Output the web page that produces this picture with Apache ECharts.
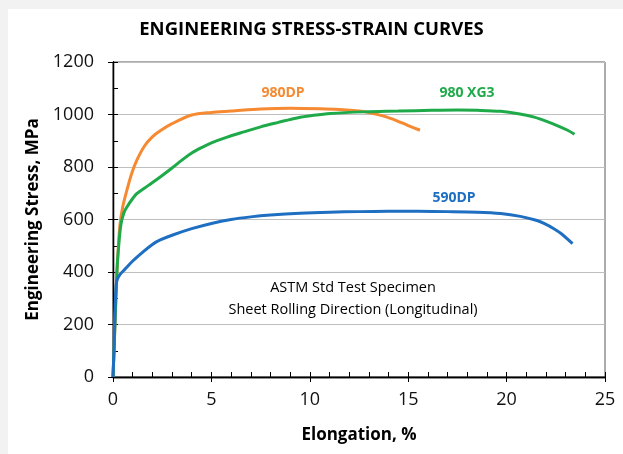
<!DOCTYPE html>
<html><head><meta charset="utf-8">
<script src="https://cdn.jsdelivr.net/npm/echarts@6/dist/echarts.min.js"></script>
<style>html,body{margin:0;padding:0;background:#fff}#c{width:623px;height:454px}</style>
</head><body><div id="c"></div>
<script>
const xTicks = [0, 5, 10, 15, 20, 25];
const yTicks = [0, 200, 400, 600, 800, 1000, 1200];

const dp590X = [0,0.05,0.1,0.15,0.2,0.35,0.6,1.0,1.5,2.0,2.4,3.0,4.0,5.0,6.0,7.0,8.0,9.5,11,12.5,14,15.5,17,18.5,19.7,20.7,21.5,21.9,22.4,22.8,23.1,23.35];
const dp590Y = [0,100,250,340,368,390,410,442,475,505,522,540,565,585,600,610,617,624,628,630,631,631,630,628,623,612,597,585,565,545,525,508];

const dp980X = [0,0.1,0.2,0.27,0.36,0.5,0.7,0.95,1.2,1.6,2.0,2.4,3.0,4.0,5.0,6.0,7.5,9.0,10.5,11.5,12.5,13.1,13.8,14.4,15.0,15.6];
const dp980Y = [0,200,400,495,585,650,710,775,824,880,915,938,965,998,1008,1013,1021,1024,1022,1019,1013,1006,993,977,958,940];

const xg3X = [0,0.1,0.2,0.27,0.4,0.55,0.7,1.0,1.2,1.8,2.4,3.0,3.5,4.0,4.5,5.0,5.8,6.7,7.5,8.4,9.35,10.2,11.05,12.75,14.5,16.2,17.5,18.5,19.7,20.6,21.4,22.0,22.6,23.1,23.45];
const xg3Y = [0,200,400,482,580,625,647,680,698,730,762,796,826,853,874,892,914,935,953,970,987,997,1004,1010,1013,1016,1017,1016,1012,1003,990,975,957,940,925];

const names = ['980DP', '980 XG3', '590DP'];
const colors = ['#F58A32', '#1FAA4A', '#1E6EC1'];

const pair = (xs, ys) => xs.map((x, i) => [x, ys[i]]);
const FONT = 'Open Sans';
const chart = echarts.init(document.getElementById('c'));

const baseX = {
  type: 'value', min: xTicks[0], max: xTicks[xTicks.length - 1], interval: 5,
  axisLine: { show: true, lineStyle: { color: '#000', width: 1.3 } },
  splitLine: { show: false }
};
const baseY = {
  type: 'value', min: yTicks[0], max: yTicks[yTicks.length - 1], interval: 200,
  axisLine: { show: true, lineStyle: { color: '#000', width: 1.3 } }
};

chart.setOption({
  animation: false,
  backgroundColor: '#fff',
  textStyle: { fontFamily: FONT },
  title: {
    text: 'ENGINEERING STRESS-STRAIN CURVES', left: 'center', top: 15,
    textStyle: { fontFamily: FONT, fontWeight: 'bold', fontSize: 18.5, color: '#000' }
  },
  grid: { left: 113, right: 18, top: 62, bottom: 77, show: true, borderColor: '#595959', borderWidth: 1, backgroundColor: 'transparent' },
  xAxis: [
    Object.assign({}, baseX, {
      name: 'Elongation, %', nameLocation: 'middle', nameGap: 50,
      nameTextStyle: { fontFamily: FONT, fontWeight: 'bold', fontSize: 17, color: '#000' },
      axisTick: { show: true, inside: true, length: 5, lineStyle: { color: '#000' } },
      minorTick: { show: true, splitNumber: 5, length: 5, lineStyle: { color: '#000' } },
      axisLabel: { fontFamily: FONT, fontSize: 18, color: '#111', margin: 14 }
    }),
    Object.assign({}, baseX, {
      position: 'bottom', offset: 0,
      axisTick: { show: true, inside: false, length: 5, lineStyle: { color: '#000' } },
      axisLabel: { show: false }
    })
  ],
  yAxis: [
    Object.assign({}, baseY, {
      name: 'Engineering Stress, MPa', nameLocation: 'middle', nameGap: 55,
      nameTextStyle: { fontFamily: FONT, fontWeight: 'bold', fontSize: 17, color: '#000' },
      axisTick: { show: true, inside: true, length: 5, lineStyle: { color: '#000' } },
      minorTick: { show: true, splitNumber: 2, length: 5, lineStyle: { color: '#000' } },
      axisLabel: { fontFamily: FONT, fontSize: 18, color: '#111', margin: 19, formatter: v => String(v) },
      splitLine: { show: true, lineStyle: { color: '#BFBFBF', width: 1 } }
    }),
    Object.assign({}, baseY, {
      position: 'left', offset: 0,
      axisTick: { show: true, inside: false, length: 5, lineStyle: { color: '#000' } },
      axisLabel: { show: false }, splitLine: { show: false }
    })
  ],
  graphic: [
    { type: 'rect', shape: { x: 0, y: 0, width: 623, height: 9 }, style: { fill: '#F2F2F2' }, silent: true },
    { type: 'rect', shape: { x: 0, y: 0, width: 8, height: 454 }, style: { fill: '#F2F2F2' }, silent: true },
    { type: 'text', x: 353, y: 288, style: { text: 'ASTM Std Test Specimen', fontFamily: FONT, fontSize: 14.5, fill: '#000', align: 'center', verticalAlign: 'middle' } },
    { type: 'text', x: 353, y: 310, style: { text: 'Sheet Rolling Direction (Longitudinal)', fontFamily: FONT, fontSize: 14.5, fill: '#000', align: 'center', verticalAlign: 'middle' } },
    { type: 'text', x: 283, y: 93, style: { text: names[0], fontFamily: FONT, fontSize: 14, fontWeight: 'bold', fill: colors[0], align: 'center', verticalAlign: 'middle' } },
    { type: 'text', x: 467, y: 93, style: { text: names[1], fontFamily: FONT, fontSize: 14, fontWeight: 'bold', fill: colors[1], align: 'center', verticalAlign: 'middle' } },
    { type: 'text', x: 454, y: 198, style: { text: names[2], fontFamily: FONT, fontSize: 14, fontWeight: 'bold', fill: colors[2], align: 'center', verticalAlign: 'middle' } }
  ],
  series: [
    { name: names[0], type: 'line', data: pair(dp980X, dp980Y), showSymbol: false, smooth: 0.3, lineStyle: { color: colors[0], width: 3 }, z: 3 },
    { name: names[1], type: 'line', data: pair(xg3X, xg3Y), showSymbol: false, smooth: 0.35, lineStyle: { color: colors[1], width: 3 }, z: 4 },
    { name: names[2], type: 'line', data: pair(dp590X, dp590Y), showSymbol: false, smooth: 0.3, lineStyle: { color: colors[2], width: 3 }, z: 5 }
  ]
});
</script></body></html>
